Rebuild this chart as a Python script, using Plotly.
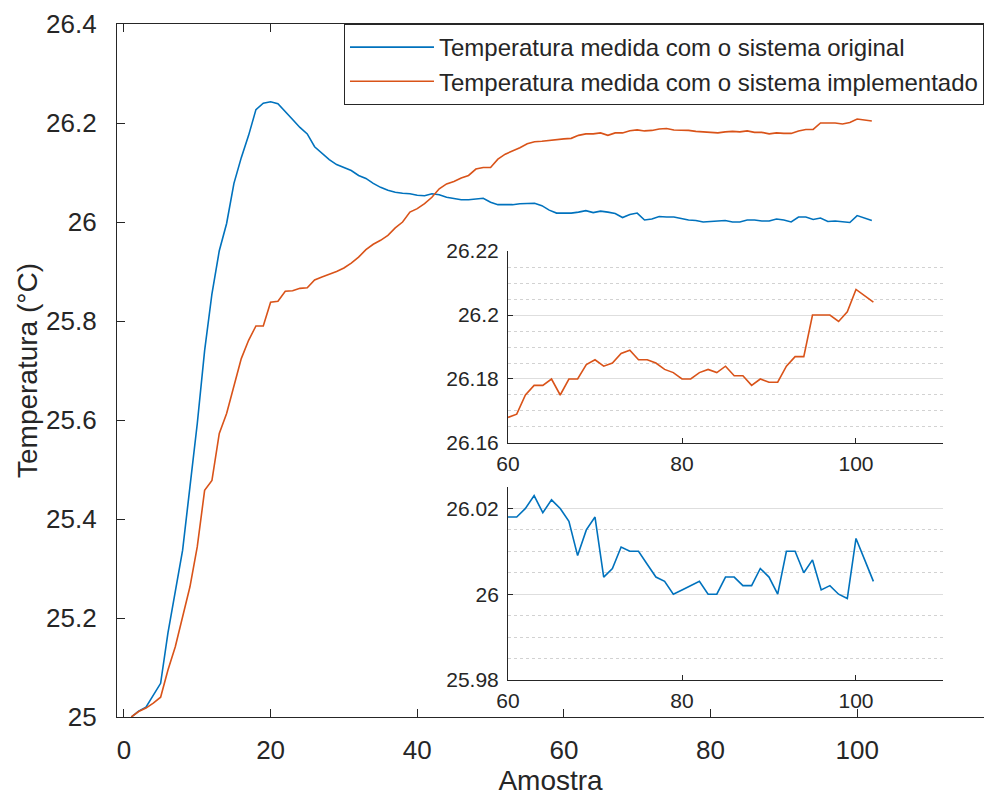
import plotly.graph_objects as go

# ---------------- data ----------------
amostra = list(range(1, 103))

temp_original = [
    25.0, 25.012, 25.02, 25.044, 25.068, 25.17, 25.256, 25.337, 25.465, 25.593,
    25.74, 25.855, 25.942, 25.997, 26.078, 26.13, 26.175, 26.227, 26.24, 26.243,
    26.239, 26.222, 26.207, 26.191, 26.178, 26.152, 26.139, 26.126, 26.116, 26.11,
    26.104, 26.094, 26.088, 26.078, 26.07, 26.064, 26.06, 26.058, 26.057, 26.054,
    26.053, 26.057, 26.055, 26.05, 26.047, 26.045, 26.045, 26.046, 26.048, 26.04,
    26.035, 26.035, 26.035, 26.037, 26.037, 26.038, 26.033, 26.024, 26.018,
    26.018, 26.018, 26.020, 26.023, 26.019, 26.022, 26.020, 26.017, 26.009, 26.015,
    26.018, 26.004, 26.006, 26.011, 26.010, 26.010, 26.007, 26.004, 26.003, 26.000,
    26.001, 26.002, 26.003, 26.000, 26.000, 26.004, 26.004, 26.002, 26.002, 26.006,
    26.004, 26.000, 26.010, 26.010, 26.005, 26.008, 26.001, 26.002, 26.000, 25.999,
    26.013, 26.008, 26.003,
]

temp_implementado = [
    25.0, 25.011, 25.018, 25.028, 25.04, 25.095, 25.142, 25.2, 25.263, 25.344,
    25.458, 25.478, 25.573, 25.613, 25.667, 25.724, 25.761, 25.79, 25.79, 25.838,
    25.84, 25.86, 25.861, 25.866, 25.867, 25.883, 25.889, 25.894, 25.9, 25.907,
    25.917, 25.929, 25.944, 25.955, 25.963, 25.973, 25.988, 26.0, 26.02, 26.027,
    26.037, 26.05, 26.067, 26.077, 26.082, 26.089, 26.094, 26.107, 26.11, 26.11,
    26.127, 26.137, 26.143, 26.15, 26.158, 26.162, 26.163, 26.165, 26.166,
    26.168, 26.169, 26.175, 26.178, 26.178, 26.180, 26.175, 26.180, 26.180, 26.1845,
    26.186, 26.184, 26.185, 26.188, 26.189, 26.186, 26.186, 26.185, 26.183, 26.182,
    26.180, 26.180, 26.182, 26.183, 26.182, 26.184, 26.181, 26.181, 26.178, 26.180,
    26.179, 26.179, 26.184, 26.187, 26.187, 26.200, 26.200, 26.200, 26.198, 26.201,
    26.208, 26.206, 26.204,
]

names = ["Temperatura medida com o sistema original",
         "Temperatura medida com o sistema implementado"]

main_xticks = [0, 20, 40, 60, 80, 100]
main_yticks = [25, 25.2, 25.4, 25.6, 25.8, 26, 26.2, 26.4]
inset_xticks = [60, 80, 100]
inset1_yticks = [26.16, 26.18, 26.2, 26.22]
inset2_yticks = [25.98, 26, 26.02]
inset_start = 60

BLUE = "#0072BD"
ORANGE = "#D95319"
AX = "#262626"
FONT = "Liberation Sans, Arial, Helvetica, sans-serif"

# slices for the insets
i0 = amostra.index(inset_start)
x_in = amostra[i0:]
orig_in = temp_original[i0:]
impl_in = temp_implementado[i0:]

fig = go.Figure()
fig.add_trace(go.Scatter(x=amostra, y=temp_original, mode="lines", name=names[0],
                         line=dict(color=BLUE, width=1.6), xaxis="x", yaxis="y"))
fig.add_trace(go.Scatter(x=amostra, y=temp_implementado, mode="lines", name=names[1],
                         line=dict(color=ORANGE, width=1.6), xaxis="x", yaxis="y"))
fig.add_trace(go.Scatter(x=x_in, y=impl_in, mode="lines", showlegend=False,
                         line=dict(color=ORANGE, width=1.6), xaxis="x2", yaxis="y2"))
fig.add_trace(go.Scatter(x=x_in, y=orig_in, mode="lines", showlegend=False,
                         line=dict(color=BLUE, width=1.6), xaxis="x3", yaxis="y3"))

tickfont_main = dict(family=FONT, size=26, color=AX)
tickfont_in = dict(family=FONT, size=21, color=AX)

inset_x = dict(range=[60, 110], tickvals=inset_xticks, ticks="inside", ticklen=5,
               tickcolor=AX, showline=True, linecolor=AX, linewidth=1,
               showgrid=False, zeroline=False, tickfont=tickfont_in,
               domain=[0.451, 0.9527], ticklabelstandoff=2)

def inset_y(rng, ticks, dom, anchor):
    return dict(range=rng, tickvals=ticks, ticks="inside", ticklen=5, tickcolor=AX,
                showline=True, linecolor=AX, linewidth=1, zeroline=False,
                showgrid=True, gridcolor="#dedede", gridwidth=1,
                minor=dict(dtick=0.005, tick0=25.98, showgrid=True, griddash="dot",
                           gridcolor="#d2d2d2", gridwidth=1, ticks=""),
                tickfont=tickfont_in, domain=dom, anchor=anchor,
                ticklabelstandoff=4)

fig.update_layout(
    width=984, height=796,
    margin=dict(l=117, r=0, t=24, b=79, autoexpand=False),
    paper_bgcolor="white", plot_bgcolor="rgba(0,0,0,0)",
    font=dict(family=FONT, color=AX),
    xaxis=dict(range=[-0.95, 117.3], tickvals=main_xticks, ticks="inside", ticklen=8,
               tickcolor=AX, showline=True, linecolor=AX, linewidth=1.2,
               mirror="ticks", showgrid=False, zeroline=False, tickfont=tickfont_main,
               ticklabelstandoff=10,
               title=dict(text="Amostra", font=dict(family=FONT, size=28, color=AX),
                          standoff=10)),
    yaxis=dict(range=[25, 26.4], tickvals=main_yticks, ticks="inside", ticklen=8,
               tickcolor=AX, showline=True, linecolor=AX, linewidth=1.2,
               mirror=False, showgrid=False, zeroline=False, tickfont=tickfont_main,
               ticklabelstandoff=14,
               title=dict(text="Temperatura (°C)", font=dict(family=FONT, size=28, color=AX),
                          standoff=0)),
    xaxis2=dict(inset_x, anchor="y2"),
    yaxis2=inset_y([26.16, 26.22], inset1_yticks, [0.3954, 0.6724], "x2"),
    xaxis3=dict(inset_x, anchor="y3"),
    yaxis3=inset_y([25.98, 26.025], inset2_yticks, [0.0534, 0.3319], "x3"),
    legend=dict(x=0.2618, y=1.0, xanchor="left", yanchor="top",
                bgcolor="white", bordercolor=AX, borderwidth=1,
                font=dict(family=FONT, size=24, color=AX),
                itemwidth=84, tracegroupgap=0),
    showlegend=True,
)

fig.write_html("out.html")
